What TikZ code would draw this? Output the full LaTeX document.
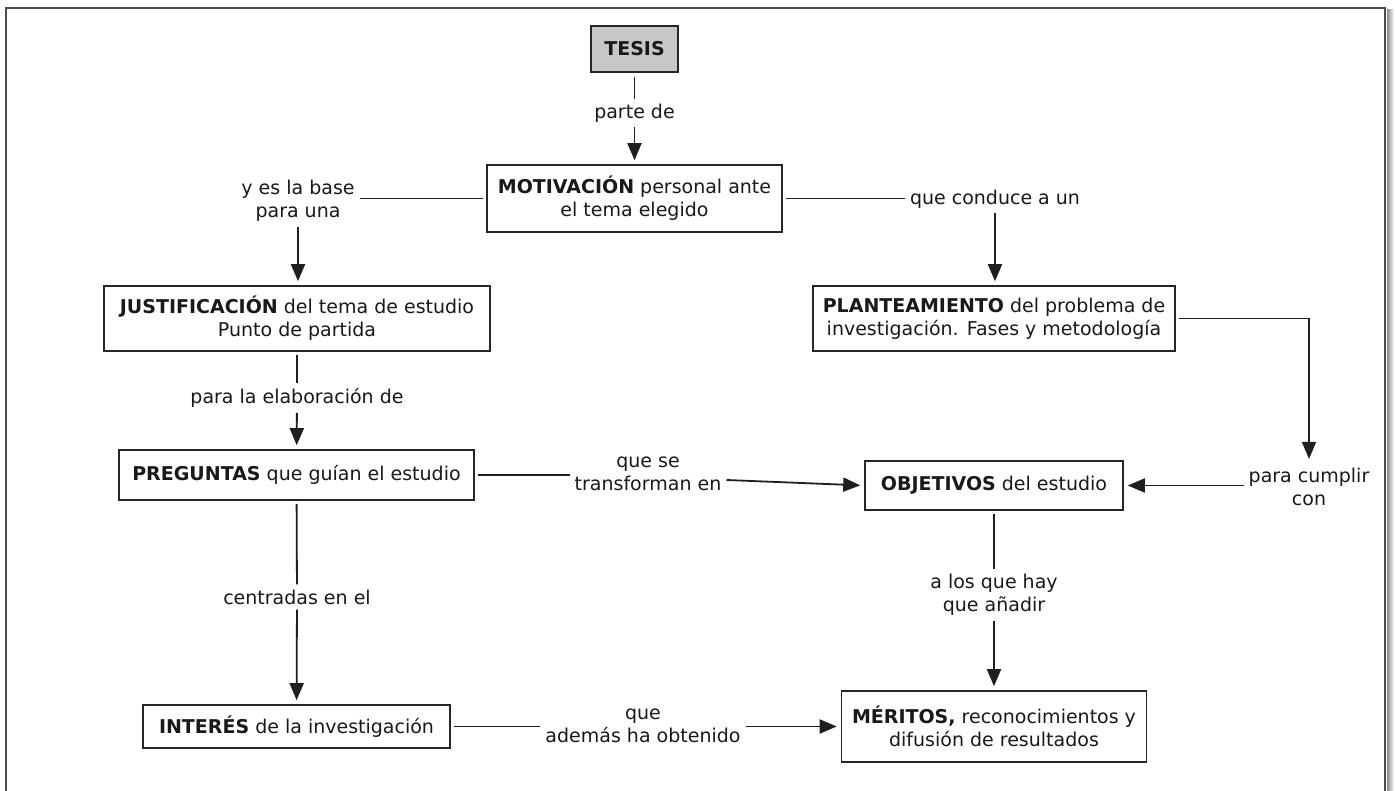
\documentclass[tikz,border=0pt]{standalone}
\usepackage{fontspec}
\setmainfont{DejaVu Sans}
\usetikzlibrary{arrows.meta,calc}
\begin{document}
\begin{tikzpicture}[x=1pt,y=-1pt,
  every node/.style={font=\fontsize{19}{23}\selectfont, text=black!90},
  box/.style={draw=black!85, line width=1.6pt, inner sep=0pt, align=center},
  lbl/.style={inner sep=5pt, align=center},
  conn/.style={draw=black!88, line width=1.8pt},
  arr/.style={conn, -{Triangle[length=17pt,width=14pt]}, shorten >=4pt},
]
\useasboundingbox (0,0) rectangle (1395,791);
\fill[white] (0,0) rectangle (1395,791);

% page frame with its shadow on the right
\shade[left color=black!45, right color=white] (1387,10) rectangle (1394,800);
\draw[black!70, line width=2pt] (6,800) -- (6,8) -- (1385,8) -- (1385,800);

% concepts
\node[box, fill=black!22, minimum width=87pt, minimum height=46pt] (tesis) at (634.5,49) {\textbf{TESIS}};
\node[box, minimum width=295pt, minimum height=67pt] (mot) at (634.5,198.5)
  {\textbf{MOTIVACIÓN} personal ante\\el tema elegido};
\node[box, minimum width=386pt, minimum height=65pt] (jus) at (297,318.5)
  {\textbf{JUSTIFICACIÓN} del tema de estudio\\Punto de partida};
\node[box, minimum width=362pt, minimum height=65pt] (plan) at (994,318.5)
  {\textbf{PLANTEAMIENTO} del problema de\\investigación. Fases y metodología};
\node[box, minimum width=355pt, minimum height=50pt] (preg) at (296.5,475)
  {\textbf{PREGUNTAS} que guían el estudio};
\node[box, minimum width=258pt, minimum height=49pt] (obj) at (994,485.5)
  {\textbf{OBJETIVOS} del estudio};
\node[box, minimum width=307pt, minimum height=43pt] (int) at (296.5,726.5)
  {\textbf{INTERÉS} de la investigación};
\node[box, minimum width=305pt, minimum height=71pt] (mer) at (994,726.5)
  {\textbf{MÉRITOS,} reconocimientos y\\difusión de resultados};

% linking phrases
\node[lbl] (l1) at (634.5,113) {parte de};
\node[lbl] (l2) at (298,201) {y es la base\\para una};
\node[lbl] (l3) at (995,199) {que conduce a un};
\node[lbl] (l4) at (297,398) {para la elaboración de};
\node[lbl] (l5) at (1309,487) {para cumplir\\con};
\node[lbl] (l6) at (648,474) {que se\\transforman en};
\node[lbl] (l7) at (297,597) {centradas en el};
\node[lbl] (l8) at (994,595) {a los que hay\\que añadir};
\node[lbl] (l9) at (643,726) {que\\además ha obtenido};

% connectors
\draw[conn, line width=1.3pt, shorten <=4pt] (tesis) -- (l1);
\draw[arr] (l1) -- (mot);

\draw[conn, shorten <=3pt] (mot.west) -- (mot.west -| l2.east);
\draw[arr] (l2.south) -- (l2.south |- jus.north);

\draw[conn, shorten <=3pt] (mot.east) -- (mot.east -| l3.west);
\draw[arr] (l3.south) -- (l3.south |- plan.north);

\draw[conn, shorten <=3pt] (jus) -- (l4);
\draw[arr] (l4) -- (preg);

\draw[arr, shorten <=3pt] (plan.east) -| (l5.north);
\draw[arr] (obj.east -| l5.west) -- (obj.east);

\draw[conn, shorten <=3pt] (preg.east) -- (preg.east -| l6.west);
\draw[arr] ($(l6.east)+(0,6)$) -- (obj.west);

\draw[conn, shorten <=3pt] (preg) -- (l7);
\draw[arr] (l7) -- (int);

\draw[conn, shorten <=3pt] (obj) -- (l8);
\draw[arr] (l8) -- (mer);

\draw[conn, shorten <=3pt] (int.east) -- (int.east -| l9.west);
\draw[arr] (mer.west -| l9.east) -- (mer.west);
\end{tikzpicture}
\end{document}
